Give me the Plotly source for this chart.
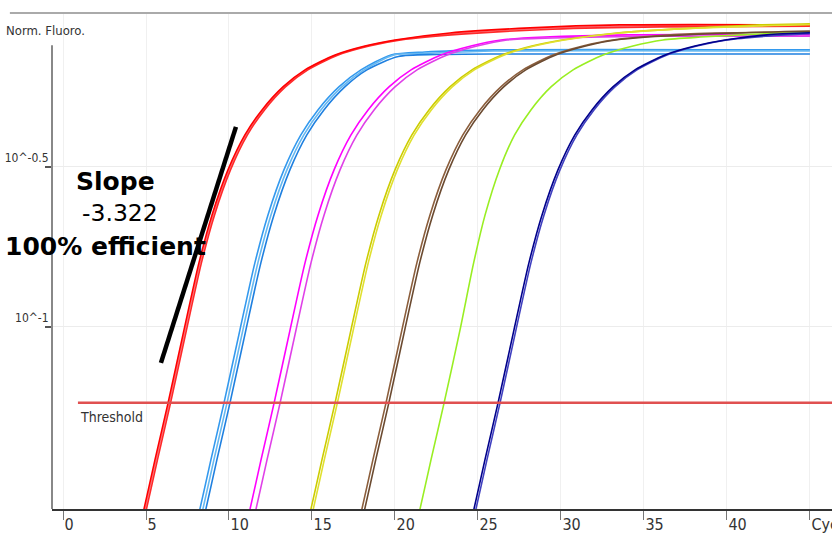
import plotly.graph_objects as go

# ---- data (cycle vs normalised fluorescence) ----
LEVELS = [0.0201, 0.0270, 0.0384, 0.0579, 0.0979, 0.1585, 0.2239, 0.3095, 0.3981,
          0.4766, 0.5623, 0.6355, 0.7079, 0.7551, 0.7886, 0.8293, 0.8598, 0.8785]

red1_c = [4.28, 4.88, 5.54, 6.33, 7.29, 8.19, 8.98, 9.94, 10.96, 11.99, 13.25, 14.58, 16.39, 18.19, 20.00, 23.31, 28.13, 33.55, 45.0]
red1_f = LEVELS + [0.879]
red3_c = [4.35, 4.95, 5.61, 6.40, 7.36, 8.26, 9.05, 10.01, 11.03, 12.06, 13.32, 14.65, 16.48, 18.30, 20.15, 23.60, 28.80, 34.20, 45.0]
red3_f = LEVELS[:15] + [0.826, 0.856, 0.872, 0.875]
red2_c = [4.43, 5.03, 5.69, 6.48, 7.44, 8.34, 9.13, 10.09, 11.11, 12.14, 13.40, 14.75, 16.58, 18.45, 20.35, 24.00, 29.50, 36.00, 45.0]
red2_f = LEVELS[:15] + [0.822, 0.852, 0.866, 0.870]

blue1_c = [7.65, 8.25, 8.91, 9.70, 10.66, 11.56, 12.35, 13.31, 14.33, 15.36, 16.62, 17.95, 19.76, 21.80, 26.00, 45.0]
blue1_f = LEVELS[:13] + [0.723, 0.734, 0.734]
blue3_c = [7.83, 8.43, 9.09, 9.88, 10.84, 11.74, 12.53, 13.49, 14.51, 15.54, 16.80, 18.13, 19.94, 22.00, 26.00, 45.0]
blue3_f = LEVELS[:13] + [0.716, 0.728, 0.728]
blue2_c = [8.01, 8.61, 9.27, 10.06, 11.02, 11.92, 12.71, 13.67, 14.69, 15.72, 16.98, 18.31, 20.20, 22.50, 26.00, 45.0]
blue2_f = LEVELS[:12] + [0.700, 0.710, 0.713, 0.713]

mag1_c = [10.67, 11.27, 11.93, 12.72, 13.68, 14.58, 15.37, 16.33, 17.35, 18.38, 19.64, 20.97, 22.78, 24.58, 26.39, 29.00, 34.00, 45.0]
mag1_f = LEVELS[:15] + [0.805, 0.818, 0.818]
mag2_c = [11.03, 11.63, 12.29, 13.08, 14.04, 14.94, 15.73, 16.69, 17.71, 18.74, 20.00, 21.33, 23.14, 24.94, 26.75, 29.50, 35.00, 45.0]
mag2_f = LEVELS[:15] + [0.800, 0.810, 0.810]

yel1_c = [14.34, 14.94, 15.60, 16.39, 17.35, 18.25, 19.04, 20.00, 21.02, 22.05, 23.31, 24.64, 26.45, 28.25, 30.06, 33.37, 38.19, 42.00, 45.0]
yel1_f = LEVELS + [0.885]
yel2_c = [14.48, 15.08, 15.74, 16.53, 17.49, 18.39, 19.18, 20.14, 21.16, 22.19, 23.45, 24.78, 26.59, 28.39, 30.20, 33.51, 38.40, 43.00, 45.0]
yel2_f = LEVELS[:17] + [0.875, 0.880]

brn1_c = [17.41, 18.01, 18.67, 19.46, 20.42, 21.32, 22.11, 23.07, 24.09, 25.12, 26.38, 27.71, 29.52, 31.32, 33.13, 37.50, 45.0]
brn1_f = LEVELS[:15] + [0.823, 0.836]
brn2_c = [17.58, 18.18, 18.84, 19.63, 20.59, 21.49, 22.28, 23.24, 24.26, 25.29, 26.55, 27.88, 29.69, 31.49, 33.30, 38.00, 45.0]
brn2_f = LEVELS[:15] + [0.820, 0.840]

grn1_c = [20.91, 21.51, 22.17, 22.96, 23.92, 24.74, 25.43, 26.29, 27.21, 28.19, 29.40, 30.73, 32.54, 34.34, 36.15, 38.40, 42.00, 45.0]
grn1_f = LEVELS[:15] + [0.805, 0.823, 0.830]

nav1_c = [24.16, 24.76, 25.42, 26.21, 27.17, 28.07, 28.86, 29.82, 30.84, 31.87, 33.13, 34.46, 36.27, 38.07, 39.88, 42.41, 45.0]
nav1_f = LEVELS[:15] + [0.818, 0.830]
nav2_c = [24.28, 24.88, 25.54, 26.33, 27.29, 28.19, 28.98, 29.94, 30.96, 31.99, 33.25, 34.58, 36.39, 38.19, 40.00, 42.60, 45.0]
nav2_f = LEVELS[:15] + [0.812, 0.825]

THRESHOLD = 0.0579
THRESH_START = 0.9
SLOPE_X = [5.90, 10.42]
SLOPE_Y = [0.0772, 0.4217]

X_TICKS = [0, 5, 10, 15, 20, 25, 30, 35, 40, 45]
X_LABELS = ["0", "5", "10", "15", "20", "25", "30", "35", "40", "Cycle"]
Y_TICKS = [10 ** -0.5, 0.1]
Y_LABELS = ["10^-0.5", "10^-1"]

curves = [
    (blue1_c, blue1_f, "#3399ee"), (blue3_c, blue3_f, "#66b8f0"), (blue2_c, blue2_f, "#1f80e0"),
    (red3_c, red3_f, "#f87a84"), (red2_c, red2_f, "#ff2a2a"), (red1_c, red1_f, "#ff0000"),
    (mag1_c, mag1_f, "#ff00ff"), (mag2_c, mag2_f, "#e040e8"),
    (yel1_c, yel1_f, "#cccc00"), (yel2_c, yel2_f, "#e0e030"),
    (brn1_c, brn1_f, "#8b5e3c"), (brn2_c, brn2_f, "#6b4a30"),
    (grn1_c, grn1_f, "#99ee22"),
    (nav2_c, nav2_f, "#4040c0"), (nav1_c, nav1_f, "#00008b"),
]

fig = go.Figure()
for cx, fy, col in curves:
    fig.add_trace(go.Scatter(x=cx, y=fy, mode="lines",
                             line=dict(color=col, width=1.6, shape="spline", smoothing=0.7),
                             hoverinfo="skip", showlegend=False))

fig.add_trace(go.Scatter(x=[THRESH_START, 46.33], y=[THRESHOLD, THRESHOLD], mode="lines",
                         line=dict(color="#e05050", width=2.5), hoverinfo="skip", showlegend=False))
fig.add_trace(go.Scatter(x=SLOPE_X, y=SLOPE_Y, mode="lines", line=dict(color="black", width=4.5),
                         hoverinfo="skip", showlegend=False))

narrow = "Liberation Sans Narrow, Arial Narrow, DejaVu Sans Condensed, Liberation Sans, sans-serif"

fig.update_layout(
    width=832, height=547,
    margin=dict(l=52, r=0, t=13, b=38, autoexpand=False),
    paper_bgcolor="white", plot_bgcolor="white",
    showlegend=False, hovermode=False,
    xaxis=dict(range=[-0.663, 46.33], tickvals=X_TICKS, ticktext=X_LABELS, automargin=False,
               ticks="outside", ticklen=9, tickcolor="#777", tickwidth=1,
               ticklabelposition="outside right", ticklabeloverflow="allow",
               tickfont=dict(family=narrow, size=16, color="#333"),
               showline=True, linecolor="#333", linewidth=2, showgrid=True, gridcolor="#f0f0f0",
               zeroline=False, fixedrange=True),
    yaxis=dict(type="log", range=[-1.569, -0.019], tickvals=Y_TICKS, ticktext=Y_LABELS, automargin=False,
               ticks="outside", ticklen=6, tickcolor="#555", tickwidth=2,
               ticklabelposition="outside top", ticklabeloverflow="allow",
               tickfont=dict(family=narrow, size=12, color="#333"),
               showline=False, showgrid=True, gridcolor="#ececec", zeroline=False, fixedrange=True),
    shapes=[
        dict(type="line", xref="paper", yref="paper", x0=0, x1=0, y0=0, y1=0.935,
             line=dict(color="#888", width=2)),
        dict(type="line", xref="paper", yref="paper", x0=-0.054, x1=1.0, y0=1.0, y1=1.0,
             line=dict(color="#aaa", width=2)),
    ],
    annotations=[
        dict(text="Norm. Fluoro.", xref="paper", yref="paper", x=-0.062, y=0.964, xanchor="left",
             yanchor="middle", showarrow=False, font=dict(family=narrow, size=13, color="#333")),
        dict(text="Threshold", xref="paper", yref="paper", x=0.0333, y=0.185, xanchor="left",
             yanchor="middle", showarrow=False, font=dict(family=narrow, size=14, color="#333")),
        dict(text="<b>Slope</b>", xref="paper", yref="paper", x=0.082, y=0.661, xanchor="center",
             yanchor="middle", showarrow=False, font=dict(family="DejaVu Sans", size=25, color="black")),
        dict(text="-3.322", xref="paper", yref="paper", x=0.087, y=0.597, xanchor="center",
             yanchor="middle", showarrow=False, font=dict(family="DejaVu Sans", size=23.5, color="black")),
        dict(text="<b>100% efficient</b>", xref="paper", yref="paper", x=0.069, y=0.530, xanchor="center",
             yanchor="middle", showarrow=False, font=dict(family="DejaVu Sans", size=25, color="black")),
    ],
)

fig.write_html("out.html", config={"displayModeBar": False},
               post_script="document.body.style.margin='0';document.body.style.overflow='hidden';")
